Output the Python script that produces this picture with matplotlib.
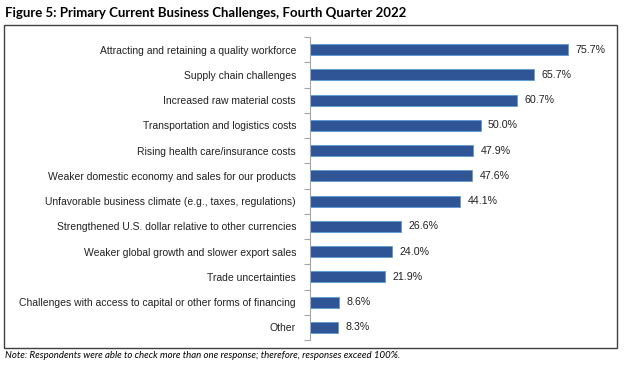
import numpy as np
import matplotlib.pyplot as plt
from matplotlib.patches import Rectangle

categories = [
    "Attracting and retaining a quality workforce",
    "Supply chain challenges",
    "Increased raw material costs",
    "Transportation and logistics costs",
    "Rising health care/insurance costs",
    "Weaker domestic economy and sales for our products",
    "Unfavorable business climate (e.g., taxes, regulations)",
    "Strengthened U.S. dollar relative to other currencies",
    "Weaker global growth and slower export sales",
    "Trade uncertainties",
    "Challenges with access to capital or other forms of financing",
    "Other",
]
values = [75.7, 65.7, 60.7, 50.0, 47.9, 47.6, 44.1, 26.6, 24.0, 21.9, 8.6, 8.3]

title = "Figure 5: Primary Current Business Challenges, Fourth Quarter 2022"
note = "Note: Respondents were able to check more than one response; therefore, responses exceed 100%."

W, H = 624, 366
fig = plt.figure(figsize=(W / 100, H / 100), dpi=100)

# frame around the chart
fig.patches.append(Rectangle((4 / W, 1 - 348 / H), 613 / W, 323 / H,
                             transform=fig.transFigure, fill=False,
                             edgecolor="#404040", linewidth=1.0))

ax = fig.add_axes([310 / W, 1 - 340 / H, 300 / W, 303 / H])
y = np.arange(len(categories))
ax.barh(y, values, height=0.43, color="#2F5597", edgecolor="#5B9BD5", linewidth=0.6)
for yi, v in zip(y, values):
    ax.text(v + 2.2, yi, f"{v:.1f}%", va="center", ha="left",
            fontsize=7.7, family="Liberation Sans", color="#222222")

ax.set_xlim(0, 300 / 3.41)
ax.set_ylim(len(categories) - 0.5, -0.5)
ax.set_yticks(y)
ax.set_yticklabels(categories, fontsize=7.5, family="Liberation Sans", color="#222222")
ax.tick_params(axis="y", which="major", length=0, pad=10)
ax.set_yticks(np.arange(len(categories) + 1) - 0.5, minor=True)
ax.tick_params(axis="y", which="minor", length=4, color="#A6A6A6", width=0.8)
ax.set_xticks([])
for s in ["top", "right", "bottom"]:
    ax.spines[s].set_visible(False)
ax.spines["left"].set_color("#A6A6A6")
ax.spines["left"].set_linewidth(0.8)

fig.text(5 / W, 1 - 13 / H, title, fontsize=9.5, fontweight="bold",
         family="Lato", va="center", ha="left")
fig.text(5 / W, 1 - 356 / H, note, fontsize=6.9, style="italic",
         family="Lato", va="center", ha="left")

fig.savefig("out.png", dpi=100)
